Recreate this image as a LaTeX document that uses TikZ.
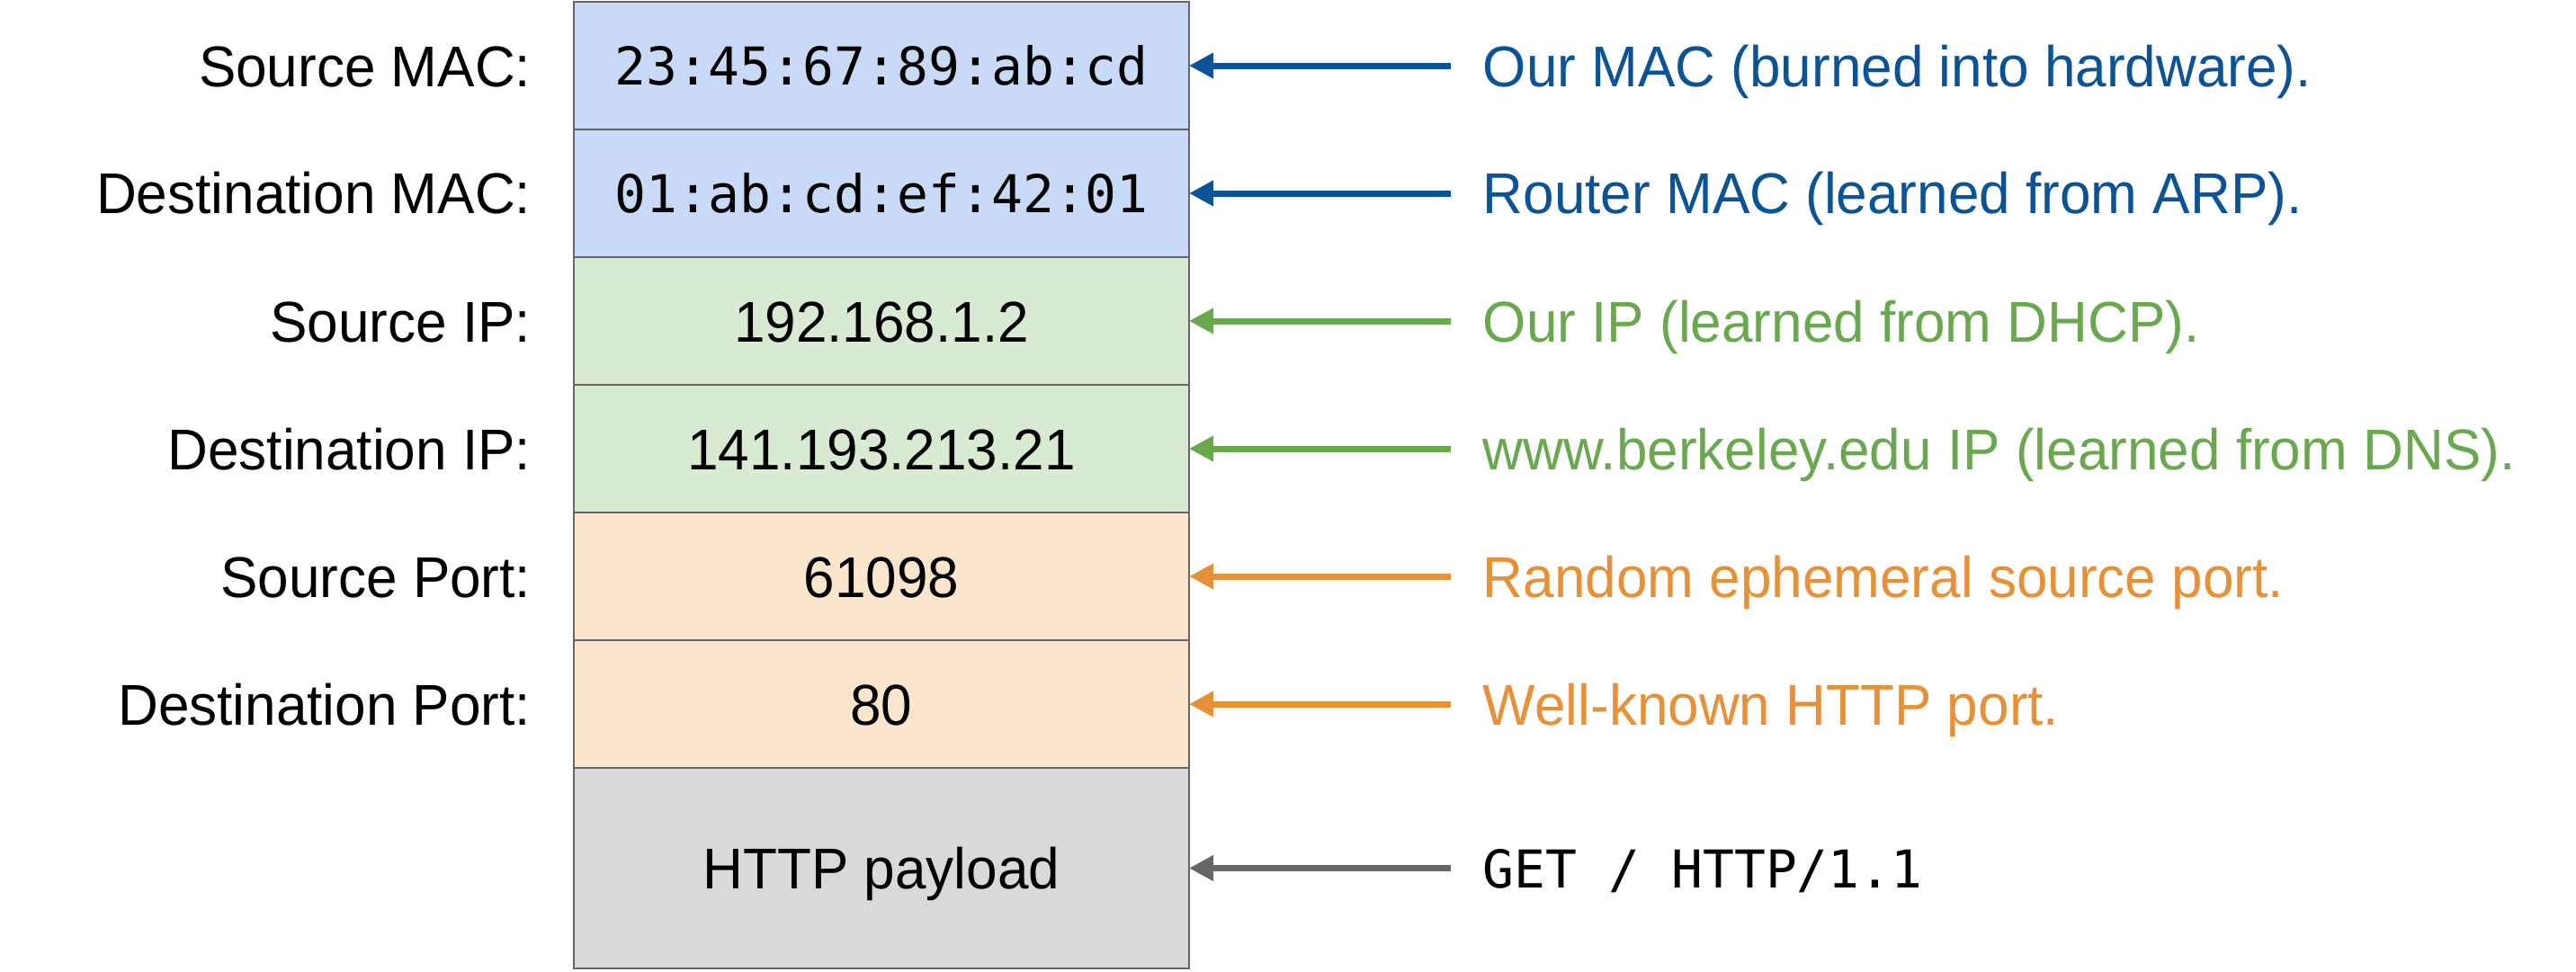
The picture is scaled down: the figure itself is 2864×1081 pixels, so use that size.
\documentclass[tikz,border=0pt]{standalone}
\usepackage{fontspec}
\setmainfont[FakeStretch=0.97]{Liberation Sans}
\newfontfamily\monofont{DejaVu Sans Mono}
\usetikzlibrary{arrows.meta}
\definecolor{boxblue}{HTML}{C9DAF8}
\definecolor{boxgreen}{HTML}{D9EAD3}
\definecolor{boxorange}{HTML}{FCE5CD}
\definecolor{boxgray}{HTML}{D9D9D9}
\definecolor{edgegray}{HTML}{666666}
\definecolor{txtblue}{HTML}{0B5394}
\definecolor{txtgreen}{HTML}{6AA84F}
\definecolor{txtorange}{HTML}{E69138}
\tikzset{
  rowbox/.style={draw=edgegray, line width=0.625pt, minimum width=171pt, minimum height=35.5pt, inner sep=0pt, outer sep=0pt},
  sanstxt/.style={inner sep=0pt, font=\fontsize{16pt}{19pt}\selectfont},
  monotxt/.style={inner sep=0pt, font=\monofont\fontsize{14.5pt}{17pt}\selectfont},
  lefttxt/.style={sanstxt, anchor=base east},
  righttxt/.style={sanstxt, anchor=base west},
  midtxt/.style={sanstxt, anchor=base},
  arr/.style={line width=1.75pt, -{Triangle[length=6.75pt,width=6.75pt]}}
}
\begin{document}
\begin{tikzpicture}[x=0.25pt,y=-0.25pt]
\useasboundingbox (0,0) rectangle (2864,1081);
% rows
\node[rowbox, fill=boxblue] (r1) at (980,73) {};
\node[rowbox, fill=boxblue] (r2) at (980,215) {};
\node[rowbox, fill=boxgreen] (r3) at (980,357) {};
\node[rowbox, fill=boxgreen] (r4) at (980,499) {};
\node[rowbox, fill=boxorange] (r5) at (980,641) {};
\node[rowbox, fill=boxorange] (r6) at (980,783) {};
\node[rowbox, fill=boxgray, minimum height=55.75pt] (r7) at (980,965.5) {};
% values
\node[monotxt, anchor=base] (v1) at (980,94) {23:45:67:89:ab:cd};
\node[monotxt, anchor=base] (v2) at (980,236) {01:ab:cd:ef:42:01};
\node[midtxt] (v3) at (980,380) {192.168.1.2};
\node[midtxt] (v4) at (980,522) {141.193.213.21};
\node[midtxt] (v5) at (980,664) {61098};
\node[midtxt] (v6) at (980,806) {80};
\node[midtxt] (v7) at (980,988.5) {HTTP payload};
% left labels
\node[lefttxt] (l1) at (591,96) {Source MAC:};
\node[lefttxt] (l2) at (591,238) {Destination MAC:};
\node[lefttxt] (l3) at (591,380) {Source IP:};
\node[lefttxt] (l4) at (591,522) {Destination IP:};
\node[lefttxt] (l5) at (591,664) {Source Port:};
\node[lefttxt] (l6) at (591,806) {Destination Port:};
% arrows
\coordinate (c1) at (1613,73);
\coordinate (c2) at (1613,215);
\coordinate (c3) at (1613,357);
\coordinate (c4) at (1613,499);
\coordinate (c5) at (1613,641);
\coordinate (c6) at (1613,783);
\coordinate (c7) at (1613,965.5);
\draw[arr, txtblue] (c1) -- (r1.east);
\draw[arr, txtblue] (c2) -- (r2.east);
\draw[arr, txtgreen] (c3) -- (r3.east);
\draw[arr, txtgreen] (c4) -- (r4.east);
\draw[arr, txtorange] (c5) -- (r5.east);
\draw[arr, txtorange] (c6) -- (r6.east);
\draw[arr, edgegray] (c7) -- (r7.east);
% right notes
\node[righttxt, text=txtblue] (n1) at (1648,96) {Our MAC (burned into hardware).};
\node[righttxt, text=txtblue] (n2) at (1648,238) {Router MAC (learned from ARP).};
\node[righttxt, text=txtgreen] (n3) at (1648,380) {Our IP (learned from DHCP).};
\node[righttxt, text=txtgreen] (n4) at (1648,522) {www.berkeley.edu IP (learned from DNS).};
\node[righttxt, text=txtorange] (n5) at (1648,664) {Random ephemeral source port.};
\node[righttxt, text=txtorange] (n6) at (1648,806) {Well-known HTTP port.};
\node[monotxt, anchor=base west, text=black] (n7) at (1648,987) {GET / HTTP/1.1};
\end{tikzpicture}
\end{document}
